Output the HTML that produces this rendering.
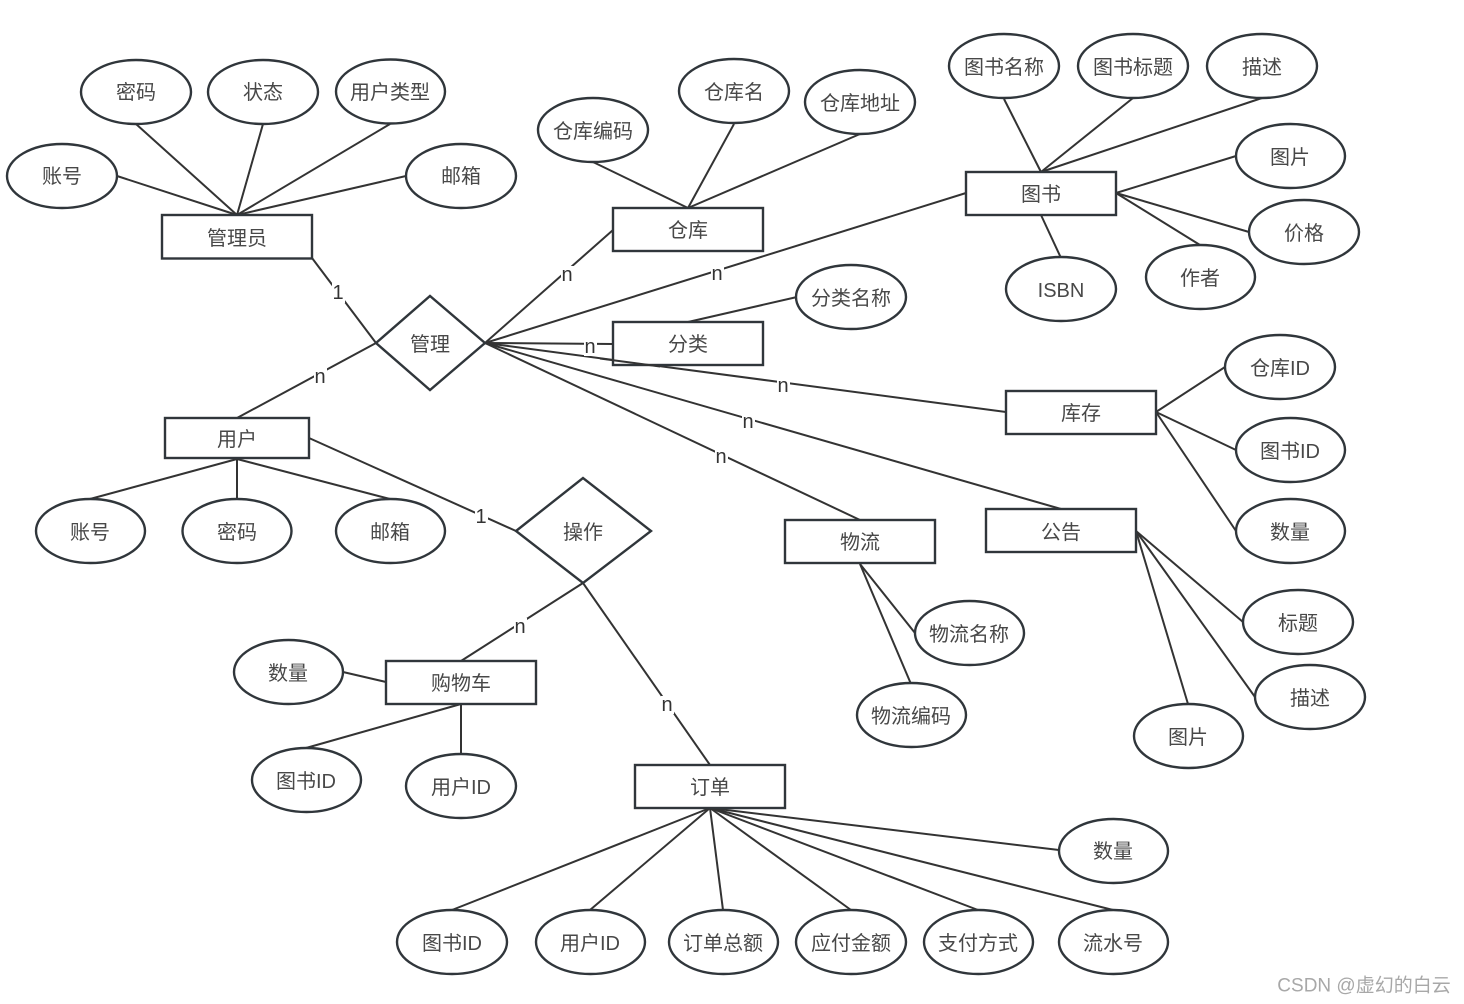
<!DOCTYPE html>
<html><head><meta charset="utf-8"><style>
html,body{margin:0;padding:0;background:#fff;width:1464px;height:1004px;overflow:hidden}
svg{display:block}
text{font-family:"Liberation Sans","Noto Sans CJK SC",sans-serif;font-size:20px;fill:#484848;text-anchor:middle;dominant-baseline:central}
text:not(.l){transform:translateY(2px)}
text.l{transform:translateY(1px)}
line,polyline{stroke:#333;stroke-width:2;fill:none}
ellipse,rect,polygon{stroke:#30363b;stroke-width:2.4;fill:#fff}
.l{font-size:20px;fill:#333}
.bg{fill:#fff;stroke:none}
</style></head><body>
<svg width="1464" height="1004" viewBox="0 0 1464 1004">
<g>
<line x1="117" y1="176" x2="237" y2="215"/><line x1="136" y1="124" x2="237" y2="215"/><line x1="263" y1="124" x2="237" y2="215"/><line x1="390" y1="124" x2="237" y2="215"/><line x1="406" y1="176" x2="237" y2="215"/>
<line x1="312" y1="258" x2="376" y2="343"/><line x1="376" y1="343" x2="237" y2="418"/>
<line x1="237" y1="459" x2="90" y2="499"/><line x1="237" y1="459" x2="237" y2="499"/><line x1="237" y1="459" x2="390" y2="499"/>
<line x1="309" y1="438" x2="516" y2="531"/>
<line x1="583" y1="583" x2="461" y2="661"/><line x1="583" y1="583" x2="710" y2="765"/>
<line x1="343" y1="672" x2="386" y2="682"/><line x1="461" y1="704" x2="306" y2="748"/><line x1="461" y1="704" x2="461" y2="754"/>
<line x1="710" y1="808" x2="452" y2="910"/><line x1="710" y1="808" x2="590" y2="910"/><line x1="710" y1="808" x2="723" y2="910"/><line x1="710" y1="808" x2="851" y2="910"/><line x1="710" y1="808" x2="978" y2="910"/><line x1="710" y1="808" x2="1113" y2="910"/><line x1="710" y1="808" x2="1059" y2="850"/>
<line x1="485" y1="343" x2="613" y2="230"/><line x1="485" y1="343" x2="966" y2="193"/><line x1="485" y1="343" x2="613" y2="344"/><line x1="485" y1="343" x2="1006" y2="412"/><line x1="485" y1="343" x2="1061" y2="509"/><line x1="485" y1="343" x2="860" y2="520"/>
<line x1="593" y1="162" x2="688" y2="208"/><line x1="734" y1="124" x2="688" y2="208"/><line x1="860" y1="134" x2="688" y2="208"/>
<line x1="688" y1="322" x2="797" y2="297"/>
<line x1="1004" y1="99" x2="1041" y2="172"/><line x1="1133" y1="98" x2="1041" y2="172"/><line x1="1262" y1="98" x2="1041" y2="172"/>
<line x1="1116" y1="193" x2="1236" y2="156"/><line x1="1116" y1="193" x2="1249" y2="232"/><line x1="1116" y1="193" x2="1200" y2="245"/><line x1="1041" y1="215" x2="1061" y2="258"/>
<line x1="1156" y1="412" x2="1225" y2="367"/><line x1="1156" y1="412" x2="1236" y2="450"/><line x1="1156" y1="412" x2="1236" y2="531"/>
<line x1="1136" y1="531" x2="1243" y2="622"/><line x1="1136" y1="531" x2="1255" y2="697"/><line x1="1136" y1="531" x2="1188" y2="704"/>
<line x1="860" y1="564" x2="915" y2="633"/><line x1="860" y1="564" x2="911" y2="684"/>
</g>
<g>
<ellipse cx="62" cy="176" rx="55" ry="32"/><text x="62" y="175">账号</text>
<ellipse cx="136" cy="92" rx="55" ry="32"/><text x="136" y="91">密码</text>
<ellipse cx="263" cy="92" rx="55" ry="32"/><text x="263" y="91">状态</text>
<ellipse cx="390.500" cy="91.500" rx="54.500" ry="32"/><text x="390" y="91">用户类型</text>
<ellipse cx="461" cy="176" rx="55" ry="32"/><text x="461" y="175">邮箱</text>
<rect x="162" y="215" width="150" height="43.500"/><text x="237" y="237">管理员</text>
<polygon points="376,343 430,296 485,343 430,390"/><text x="430" y="343">管理</text>
<rect x="165" y="418" width="144" height="40"/><text x="237" y="438">用户</text>
<ellipse cx="90.500" cy="531" rx="54.500" ry="32"/><text x="90" y="531">账号</text>
<ellipse cx="237" cy="531" rx="54.500" ry="32"/><text x="237" y="531">密码</text>
<ellipse cx="390.500" cy="531" rx="54.500" ry="32"/><text x="390" y="531">邮箱</text>
<polygon points="516,531 583,478 651,531 583,583"/><text x="583" y="531">操作</text>
<ellipse cx="288.500" cy="672" rx="54.500" ry="32"/><text x="288" y="672">数量</text>
<rect x="386" y="661" width="150" height="43"/><text x="461" y="682">购物车</text>
<ellipse cx="306.500" cy="780" rx="54.500" ry="32"/><text x="306" y="780">图书ID</text>
<ellipse cx="461" cy="786" rx="55" ry="32"/><text x="461" y="786">用户ID</text>
<rect x="635" y="765" width="150" height="43"/><text x="710" y="786">订单</text>
<ellipse cx="1113.500" cy="851" rx="54.500" ry="32"/><text x="1113" y="850">数量</text>
<ellipse cx="452" cy="942" rx="55" ry="32"/><text x="452" y="942">图书ID</text>
<ellipse cx="590.500" cy="942" rx="54.500" ry="32"/><text x="590" y="942">用户ID</text>
<ellipse cx="723.500" cy="942" rx="54.500" ry="32"/><text x="723" y="942">订单总额</text>
<ellipse cx="851" cy="942" rx="55" ry="32"/><text x="851" y="942">应付金额</text>
<ellipse cx="978.500" cy="942" rx="54.500" ry="32"/><text x="978" y="942">支付方式</text>
<ellipse cx="1113.500" cy="942" rx="54.500" ry="32"/><text x="1113" y="942">流水号</text>
<ellipse cx="593" cy="130" rx="55" ry="32"/><text x="593" y="130">仓库编码</text>
<ellipse cx="734" cy="91" rx="55" ry="32"/><text x="734" y="91">仓库名</text>
<ellipse cx="860" cy="102" rx="55" ry="32"/><text x="860" y="102">仓库地址</text>
<rect x="613" y="208" width="150" height="43"/><text x="688" y="229">仓库</text>
<rect x="613" y="322" width="150" height="43"/><text x="688" y="343">分类</text>
<ellipse cx="851" cy="297" rx="55" ry="32"/><text x="851" y="297">分类名称</text>
<ellipse cx="1004" cy="66" rx="55" ry="32"/><text x="1004" y="66">图书名称</text>
<ellipse cx="1133" cy="66" rx="55" ry="32"/><text x="1133" y="66">图书标题</text>
<ellipse cx="1262" cy="66" rx="55" ry="32"/><text x="1262" y="66">描述</text>
<rect x="966" y="172" width="150" height="43"/><text x="1041" y="193">图书</text>
<ellipse cx="1290.500" cy="156" rx="54.500" ry="32"/><text x="1290" y="156">图片</text>
<ellipse cx="1304" cy="232" rx="55" ry="32"/><text x="1304" y="232">价格</text>
<ellipse cx="1200.500" cy="277" rx="54.500" ry="32"/><text x="1200" y="277">作者</text>
<ellipse cx="1061" cy="289" rx="55" ry="32"/><text x="1061" y="289">ISBN</text>
<rect x="1006" y="391" width="150" height="43"/><text x="1081" y="412">库存</text>
<ellipse cx="1280" cy="367" rx="55" ry="32"/><text x="1280" y="367">仓库ID</text>
<ellipse cx="1290.500" cy="450" rx="54.500" ry="32"/><text x="1290" y="450">图书ID</text>
<ellipse cx="1290.500" cy="531" rx="54.500" ry="32"/><text x="1290" y="531">数量</text>
<rect x="986" y="509" width="150" height="43"/><text x="1061" y="531">公告</text>
<ellipse cx="1298" cy="622" rx="55" ry="32"/><text x="1298" y="622">标题</text>
<ellipse cx="1310" cy="697" rx="55" ry="32"/><text x="1310" y="697">描述</text>
<ellipse cx="1188.500" cy="736" rx="54.500" ry="32"/><text x="1188" y="736">图片</text>
<rect x="785" y="520" width="150" height="43"/><text x="860" y="541">物流</text>
<ellipse cx="969.500" cy="633" rx="54.500" ry="32"/><text x="969" y="633">物流名称</text>
<ellipse cx="911.500" cy="715" rx="54.500" ry="32"/><text x="911" y="715">物流编码</text>
</g>
<line x1="600" y1="358.500" x2="660" y2="366.500"/>
<g>
<rect class="bg" x="332" y="283" width="13" height="20"/><text class="l" x="338" y="292">1</text>
<rect class="bg" x="314" y="368" width="13" height="18"/><text class="l" x="320" y="376">n</text>
<rect class="bg" x="561" y="266" width="13" height="18"/><text class="l" x="567" y="274">n</text>
<rect class="bg" x="711" y="265" width="13" height="18"/><text class="l" x="717" y="273">n</text>
<rect class="bg" x="584" y="338" width="13" height="18"/><text class="l" x="590" y="346">n</text>
<rect class="bg" x="777" y="377" width="13" height="18"/><text class="l" x="783" y="385">n</text>
<rect class="bg" x="742" y="413" width="13" height="18"/><text class="l" x="748" y="421">n</text>
<rect class="bg" x="715" y="448" width="13" height="18"/><text class="l" x="721" y="456">n</text>
<rect class="bg" x="475" y="507" width="13" height="20"/><text class="l" x="481" y="516">1</text>
<rect class="bg" x="514" y="618" width="13" height="18"/><text class="l" x="520" y="626">n</text>
<rect class="bg" x="661" y="696" width="13" height="18"/><text class="l" x="667" y="704">n</text>
</g>
<text x="1364" y="984" style="font-size:19px;fill:#a8a8a8">CSDN @虚幻的白云</text>
</svg>
</body></html>
